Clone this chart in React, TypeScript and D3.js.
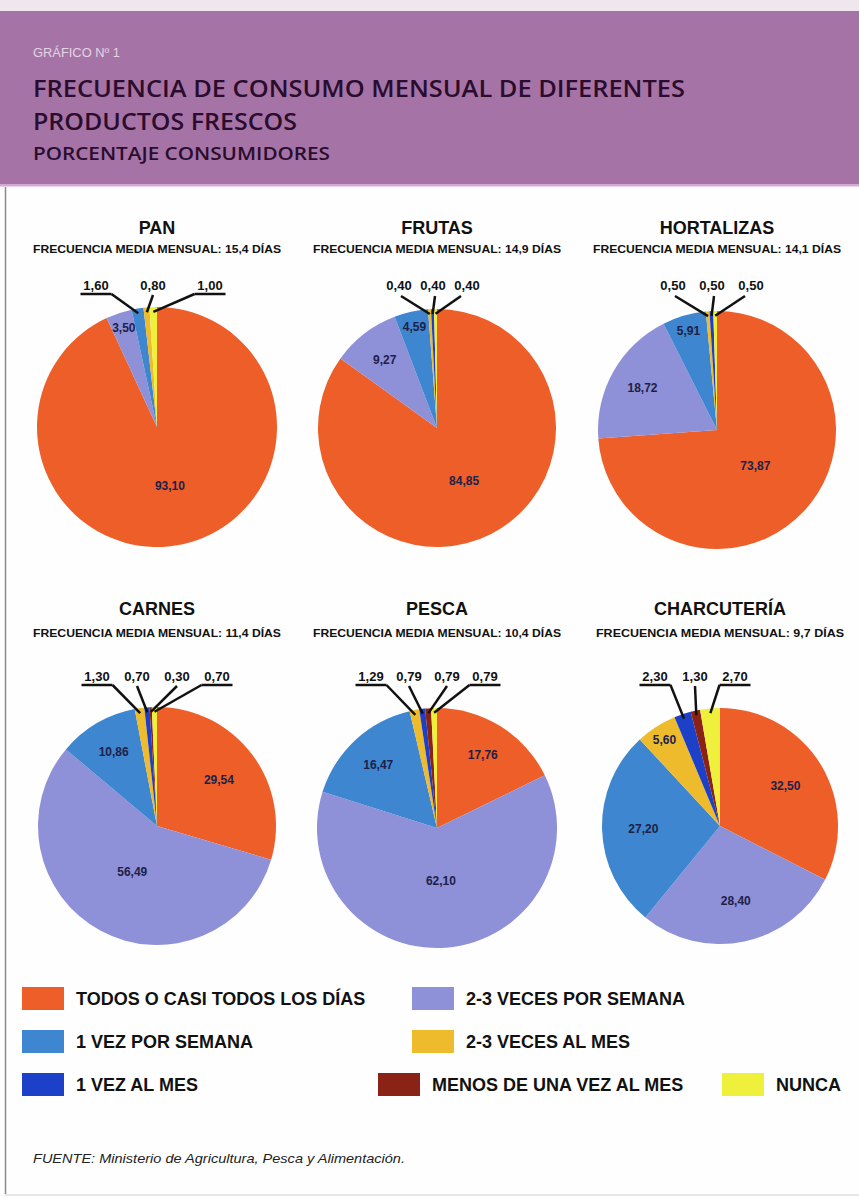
import React from "react";
import * as d3 from "d3";

// ---------- DATA ----------
const categories = [
  "TODOS O CASI TODOS LOS DÍAS",
  "2-3 VECES POR SEMANA",
  "1 VEZ POR SEMANA",
  "2-3 VECES AL MES",
  "1 VEZ AL MES",
  "MENOS DE UNA VEZ AL MES",
  "NUNCA",
];
const products = ["PAN", "FRUTAS", "HORTALIZAS", "CARNES", "PESCA", "CHARCUTERÍA"];
const mediaDias = ["15,4", "14,9", "14,1", "11,4", "10,4", "9,7"];
const panValues = [93.1, 3.5, 1.6, 0.8, 0, 0, 1.0];
const frutasValues = [84.85, 9.27, 4.59, 0.4, 0.4, 0, 0.4];
const hortalizasValues = [73.87, 18.72, 5.91, 0.5, 0.5, 0, 0.5];
const carnesValues = [29.54, 56.49, 10.86, 1.3, 0.7, 0.3, 0.7];
const pescaValues = [17.76, 62.1, 16.47, 1.29, 0.79, 0.79, 0.79];
const charcuteriaValues = [32.5, 28.4, 27.2, 5.6, 2.3, 1.3, 2.7];
const seriesValues = [panValues, frutasValues, hortalizasValues, carnesValues, pescaValues, charcuteriaValues];

// ---------- STYLE / LAYOUT ----------
const colors = ["#ee5e28", "#8e90d8", "#3e86cf", "#eebb2c", "#1d40c8", "#8a2316", "#eef03c"];
const panels = [
  { cx: 157, cy: 427, r: 120, titleY: 234, subY: 253, spread: 57, shift: -4, underline: true, labY: 290 },
  { cx: 437, cy: 428, r: 119, titleY: 234, subY: 253, spread: 34, shift: -4, underline: false, labY: 290 },
  { cx: 717, cy: 430, r: 119, titleY: 234, subY: 253, spread: 39, shift: -5, underline: false, labY: 290 },
  { cx: 157, cy: 826, r: 119, titleY: 615, subY: 637, spread: 40, shift: 0, underline: true, labY: 681 },
  { cx: 437, cy: 828, r: 120, titleY: 615, subY: 637, spread: 38, shift: -9, underline: true, labY: 681 },
  { cx: 720, cy: 826, r: 118, titleY: 615, subY: 637, spread: 40, shift: -25, underline: true, labY: 681 },
];
const legendPos = [
  { x: 22, y: 987 },
  { x: 412, y: 987 },
  { x: 22, y: 1030 },
  { x: 412, y: 1030 },
  { x: 22, y: 1073 },
  { x: 378, y: 1073 },
  { x: 722, y: 1073 },
];
const fmt = (v: number) => d3.format(".2f")(v).replace(".", ",");
const SANS = "'Liberation Sans', Arial, Helvetica, sans-serif";

function Pie({ idx }: { idx: number }) {
  const p = panels[idx];
  const values = seriesValues[idx];
  const pie = d3.pie<number>().sort(null).value((d) => d);
  const arcs = pie(values);
  const arc = d3.arc<d3.PieArcDatum<number>>().innerRadius(0).outerRadius(p.r);
  const outer = arcs.filter((a) => a.data > 0 && a.data < 3);
  const inner = arcs.filter((a) => a.data >= 3);
  const n = outer.length;
  const xs = d3
    .scalePoint<number>()
    .domain(d3.range(n))
    .range([p.cx + p.shift - ((n - 1) * p.spread) / 2, p.cx + p.shift + ((n - 1) * p.spread) / 2]);
  const halfW = 13.5;
  const fracFor = (v: number) => (v > 80 ? 0.5 : v > 50 ? 0.44 : v >= 25 ? 0.65 : v >= 8 ? 0.72 : 0.87);
  return (
    <g>
      <text x={p.cx} y={p.titleY} textAnchor="middle" fontFamily={SANS} fontWeight="bold" fontSize={18} fill="#111">
        {products[idx]}
      </text>
      <text
        x={p.cx}
        y={p.subY}
        textAnchor="middle"
        fontFamily={SANS}
        fontWeight="bold"
        fontSize={11.5}
        fill="#111"
        textLength={248}
        lengthAdjust="spacingAndGlyphs"
      >
        {`FRECUENCIA MEDIA MENSUAL: ${mediaDias[idx]} DÍAS`}
      </text>
      <g transform={`translate(${p.cx},${p.cy})`}>
        {arcs.map((a, i) =>
          a.data > 0 ? <path key={i} d={arc(a) as string} fill={colors[a.index]} /> : null
        )}
        {inner.map((a, i) => {
          const mid = (a.startAngle + a.endAngle) / 2;
          const rr = p.r * fracFor(a.data);
          return (
            <text
              key={i}
              x={Math.sin(mid) * rr}
              y={-Math.cos(mid) * rr}
              dy="0.35em"
              textAnchor="middle"
              fontFamily={SANS}
              fontWeight="bold"
              fontSize={12}
              fill="#1d2148"
            >
              {fmt(a.data)}
            </text>
          );
        })}
      </g>
      {outer.map((a, i) => {
        const lx = xs(i) as number;
        const mid = (a.startAngle + a.endAngle) / 2;
        const ex = p.cx + Math.sin(mid) * p.r * 0.96;
        const ey = p.cy - Math.cos(mid) * p.r * 0.96;
        const uy = p.labY + 4;
        let sx = lx;
        let sy = p.labY + 5;
        let ul: [number, number] | null = null;
        if (p.underline && n > 1 && i === 0) {
          ul = [lx - halfW - 2, lx + halfW + 2];
          sx = ul[1];
          sy = uy;
        } else if (p.underline && n > 1 && i === n - 1) {
          ul = [lx - halfW - 2, lx + halfW + 2];
          sx = ul[0];
          sy = uy;
        } else if (!p.underline) {
          sx = i === 0 ? lx + 2 : i === n - 1 ? lx - 6 : lx + 2;
          sy = p.labY + 6;
        }
        return (
          <g key={i}>
            <text x={lx} y={p.labY} textAnchor="middle" fontFamily={SANS} fontWeight="bold" fontSize={13} fill="#111">
              {fmt(a.data)}
            </text>
            {ul && <line x1={ul[0]} x2={ul[1]} y1={uy} y2={uy} stroke="#111" strokeWidth={2.5} />}
            <line x1={sx} y1={sy} x2={ex} y2={ey} stroke="#111" strokeWidth={2.5} />
          </g>
        );
      })}
    </g>
  );
}

export default function App() {
  return (
    <svg
      width={859}
      height={1201}
      viewBox="0 0 859 1201"
      style={{ position: "absolute", left: 0, top: 0, display: "block", background: "#fff" }}
    >
      <rect x={0} y={0} width={859} height={1201} fill="#fefefe" />
      <rect x={0} y={0} width={859} height={11} fill="#efe6ee" />
      <rect x={0} y={11} width={859} height={174} fill="#a673a7" />
      <rect x={0} y={184} width={859} height={2.5} fill="#d5a8d4" />
      <line x1={5.5} y1={187} x2={5.5} y2={1194} stroke="#8a8a8a" strokeWidth={1.5} />
      <line x1={5} y1={1195} x2={859} y2={1195} stroke="#e4dede" strokeWidth={1.5} />

      <text x={33} y={57} fontFamily={SANS} fontSize={12} fill="#e2d4e2" textLength={87} lengthAdjust="spacingAndGlyphs">
        GRÁFICO Nº 1
      </text>
      <text x={33} y={97} fontFamily="'Open Sans', sans-serif" fontWeight={600} fontSize={24} fill="#2a0d2c" textLength={652} lengthAdjust="spacingAndGlyphs">
        FRECUENCIA DE CONSUMO MENSUAL DE DIFERENTES
      </text>
      <text x={33} y={130} fontFamily="'Open Sans', sans-serif" fontWeight={600} fontSize={24} fill="#2a0d2c" textLength={264} lengthAdjust="spacingAndGlyphs">
        PRODUCTOS FRESCOS
      </text>
      <text x={33} y={160} fontFamily="'Open Sans', sans-serif" fontWeight={600} fontSize={18} fill="#2a0d2c" textLength={297} lengthAdjust="spacingAndGlyphs">
        PORCENTAJE CONSUMIDORES
      </text>

      {panels.map((_, i) => (
        <Pie key={i} idx={i} />
      ))}

      {categories.map((c, i) => {
        const lp = legendPos[i];
        return (
          <g key={c}>
            <rect x={lp.x} y={lp.y} width={42} height={23} fill={colors[i]} />
            <text x={lp.x + 54} y={lp.y + 18} fontFamily={SANS} fontWeight="bold" fontSize={18} fill="#111">
              {c}
            </text>
          </g>
        );
      })}

      <text x={33} y={1163} fontFamily={SANS} fontStyle="italic" fontSize={13} fill="#222" textLength={372} lengthAdjust="spacingAndGlyphs">
        FUENTE: Ministerio de Agricultura, Pesca y Alimentación.
      </text>
    </svg>
  );
}
